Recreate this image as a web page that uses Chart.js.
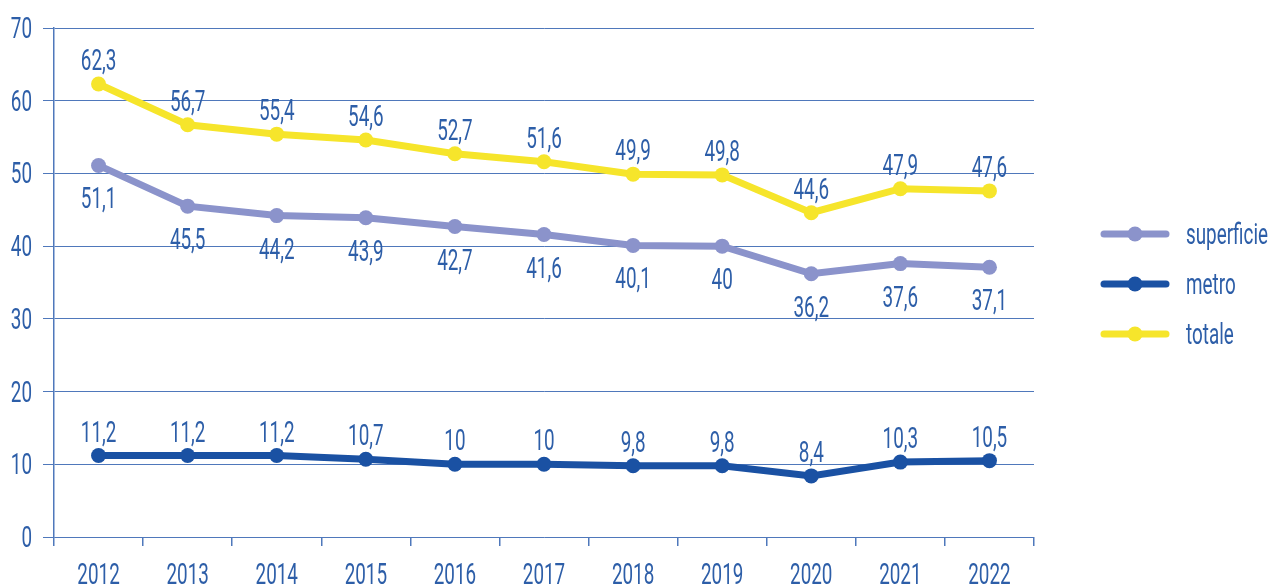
<!DOCTYPE html>
<html lang="it">
<head>
  <meta charset="UTF-8" />
  <title>superficie / metro / totale</title>
  <script src="https://cdn.jsdelivr.net/npm/chart.js"></script>
  <style>
    html, body { margin: 0; padding: 0; background: #fff; }
    #wrap { width: 1272px; height: 586px; }
  </style>
</head>
<body>
  <div id="wrap"><canvas id="chart" width="1272" height="586"></canvas></div>

  <script>
    const years = ['2012','2013','2014','2015','2016','2017','2018','2019','2020','2021','2022'];
    const superficie = [51.1, 45.5, 44.2, 43.9, 42.7, 41.6, 40.1, 40, 36.2, 37.6, 37.1];
    const metro = [11.2, 11.2, 11.2, 10.7, 10, 10, 9.8, 9.8, 8.4, 10.3, 10.5];
    const totale = [62.3, 56.7, 55.4, 54.6, 52.7, 51.6, 49.9, 49.8, 44.6, 47.9, 47.6];

    const BLUE_TEXT = '#2d5ea8';
    const GRID = '#4f78bb';
    const FONT = '29px Roboto, "Noto Sans", sans-serif';
    const SQUEEZE = 0.65; // the original face is a narrow condensed one

    const fmt = v => String(v).replace('.', ',');

    // draw text squeezed horizontally
    function narrowText(ctx, text, x, y, align) {
      ctx.save();
      ctx.translate(x, y);
      ctx.scale(SQUEEZE, 1);
      ctx.textAlign = align;
      ctx.textBaseline = 'alphabetic';
      ctx.fillText(text, 0, 0);
      ctx.restore();
    }

    // tick labels, value labels and legend, all in the condensed look
    const textPlugin = {
      id: 'narrowTexts',
      afterDraw(chart) {
        const ctx = chart.ctx;
        const xs = chart.scales.x, ys = chart.scales.y;
        ctx.save();
        ctx.font = FONT;
        ctx.fillStyle = BLUE_TEXT;

        ys.ticks.forEach(t => {
          narrowText(ctx, String(t.value), 32, ys.getPixelForValue(t.value) + 10, 'right');
        });
        chart.data.labels.forEach((lab, i) => {
          narrowText(ctx, lab, xs.getPixelForValue(i), 584, 'center');
        });

        chart.data.datasets.forEach((ds, i) => {
          const meta = chart.getDatasetMeta(i);
          meta.data.forEach((pt, j) => {
            const dy = ds.labelPos === 'below' ? 43 : -14;
            narrowText(ctx, fmt(ds.data[j]), pt.x, pt.y + dy, 'center');
          });
        });

        ['superficie', 'metro', 'totale'].forEach((name, k) => {
          const ds = chart.data.datasets.find(d => d.label === name);
          const y = 234 + k * 50;
          ctx.strokeStyle = ds.borderColor;
          ctx.lineWidth = 7;
          ctx.lineCap = 'round';
          ctx.beginPath();
          ctx.moveTo(1104, y);
          ctx.lineTo(1166, y);
          ctx.stroke();
          ctx.fillStyle = ds.borderColor;
          ctx.beginPath();
          ctx.arc(1135, y, 7.5, 0, Math.PI * 2);
          ctx.fill();
          ctx.fillStyle = BLUE_TEXT;
          narrowText(ctx, name, 1186, y + 10, 'left');
        });
        ctx.restore();
      }
    };

    function line(label, data, color, pos) {
      return {
        label, data,
        borderColor: color,
        backgroundColor: color,
        borderWidth: 7,
        pointRadius: 7.5,
        pointHoverRadius: 7.5,
        pointBorderWidth: 0,
        tension: 0,
        labelPos: pos
      };
    }

    new Chart(document.getElementById('chart'), {
      type: 'line',
      data: {
        labels: years,
        datasets: [
          line('metro', metro, '#1a51a3', 'above'),
          line('superficie', superficie, '#8b93cb', 'below'),
          line('totale', totale, '#f6e52b', 'above')
        ]
      },
      options: {
        responsive: false,
        animation: false,
        maintainAspectRatio: false,
        layout: { padding: { top: 28, right: 238, left: 0, bottom: 0 } },
        plugins: { legend: { display: false }, tooltip: { enabled: false } },
        scales: {
          x: {
            offset: true,
            grid: { offset: true, drawOnChartArea: false, color: GRID, tickLength: 9, lineWidth: 1.5 },
            border: { display: false },
            ticks: { display: false },
            afterFit(s) { s.height = 49; }
          },
          y: {
            min: 0, max: 70,
            ticks: { stepSize: 10, display: false },
            grid: { color: GRID, tickLength: 11, lineWidth: 1 },
            border: { display: true, color: GRID, width: 1.5 },
            afterFit(s) { s.width = 54; }
          }
        }
      },
      plugins: [textPlugin]
    });
  </script>
</body>
</html>
